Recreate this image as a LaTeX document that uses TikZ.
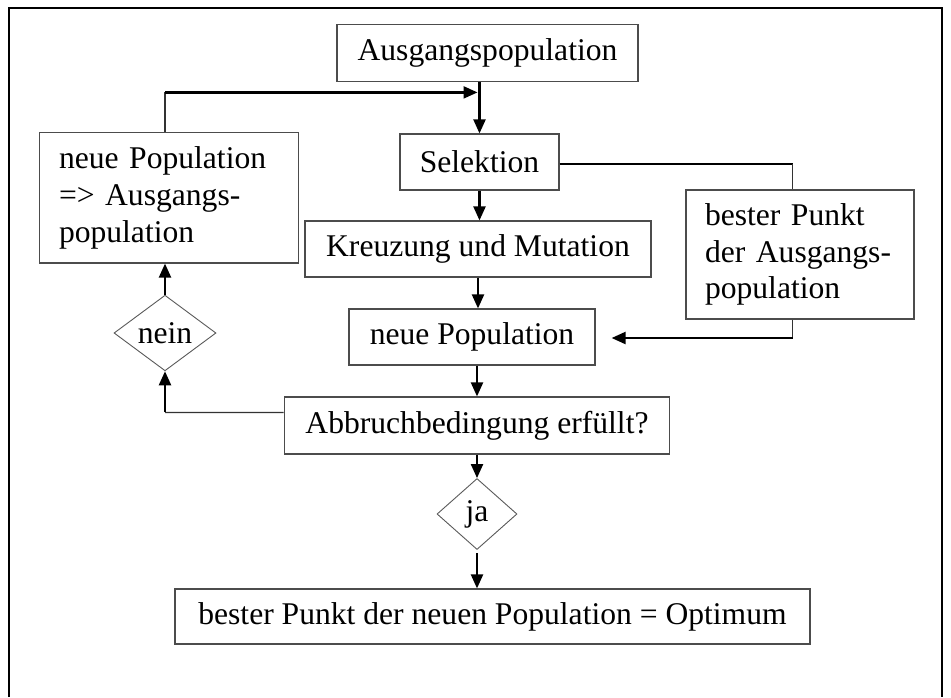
\documentclass[tikz,border=0pt]{standalone}
\usepackage{fontspec}
\setmainfont{Liberation Serif}
\usetikzlibrary{arrows.meta,shapes.geometric}

\begin{document}
\begin{tikzpicture}[x=0.5pt,y=-0.5pt,
  txt/.style={font=\fontsize{15.8}{18.35}\selectfont,text=black},
  box/.style={txt,draw=black!70,line width=0.6pt,inner sep=0pt},
  tbox/.style={box,align=left,inner ysep=0pt},
  dia/.style={txt,draw=black!65,line width=0.45pt,diamond,inner sep=0pt},
  arr/.style={line width=1.1pt,-{Triangle[length=7pt,width=6pt]}},
  heavy/.style={line width=1.1pt},
  light/.style={line width=0.6pt,draw=black!80}]
  \useasboundingbox (0,0) rectangle (951,697);

  % outer frame (open at the bottom)
  \draw[line width=1pt] (9,697) -- (9,8) -- (942,8) -- (942,697);

  % main column
  \node[box,minimum width=150.5pt,minimum height=28.25pt] (A) at (487.5,53) {Ausgangspopulation};
  \node[box,minimum width=79.5pt,minimum height=28pt] (S) at (479.5,162) {Selektion};
  \node[box,minimum width=173pt,minimum height=28pt] (K) at (478,249) {Kreuzung und Mutation};
  \node[box,minimum width=123pt,minimum height=28pt] (N) at (472,337) {neue Population};
  \node[box,minimum width=192.75pt,minimum height=28.5pt] (B) at (477,425.5) {Abbruchbedingung erfüllt?};
  \node[dia,minimum width=40pt,minimum height=35.5pt] (ja) at (477,514) {ja};
  \node[box,minimum width=317.5pt,minimum height=27.5pt] (F) at (492.5,616.5) {bester Punkt der neuen Population = Optimum};

  % side boxes
  \node[tbox,text width=110pt,inner xsep=9.75pt,minimum height=65.25pt] (L) at (169,197.75)
    {neue Population\\=> Ausgangs-\\population};
  \node[dia,minimum width=51pt,minimum height=35.5pt] (nein) at (165,333) {nein};
  \node[tbox,text width=95pt,inner xsep=9.5pt,minimum height=64.5pt] (P) at (800,254.5)
    {bester Punkt\\der Ausgangs-\\population};

  % loop back to the start population
  \coordinate (loopturn) at (165,92.4);
  \draw[light] (nein.north |- L.north) -- (loopturn);
  \draw[arr,shorten >=1pt] (loopturn) -- (loopturn -| S.north);

  % main flow
  \draw[arr] (S.north |- A.south) -- (S.north);
  \draw[arr] (S.south) -- (S.south |- K.north);
  \draw[arr] (K.south) -- (K.south |- N.north);
  \draw[arr] (ja.north |- N.south) -- (ja.north |- B.north);
  \draw[arr] (ja.north |- B.south) -- (ja.north);
  \draw[arr] ([yshift=-1.75pt]ja.south) -- (ja.south |- F.north);

  % best point of the start population
  \coordinate (selturn) at (792.5,164);
  \coordinate (bestturn) at (792.5,338);
  \draw[heavy] ([yshift=-1pt]S.east) -- (selturn);
  \draw[light] (selturn) -- (selturn |- P.north);
  \draw[light] (bestturn |- P.south) -- (bestturn);
  \draw[arr] (bestturn) -- ([xshift=8pt,yshift=-0.5pt]N.east);

  % termination check: no
  \coordinate (neinturn) at (165,412.4);
  \draw[light] ([yshift=6.5pt]B.west) -- (neinturn);
  \draw[arr] (neinturn) -- (nein.south);
  \draw[arr] (nein.north) -- (nein.north |- L.south);
\end{tikzpicture}
\end{document}
